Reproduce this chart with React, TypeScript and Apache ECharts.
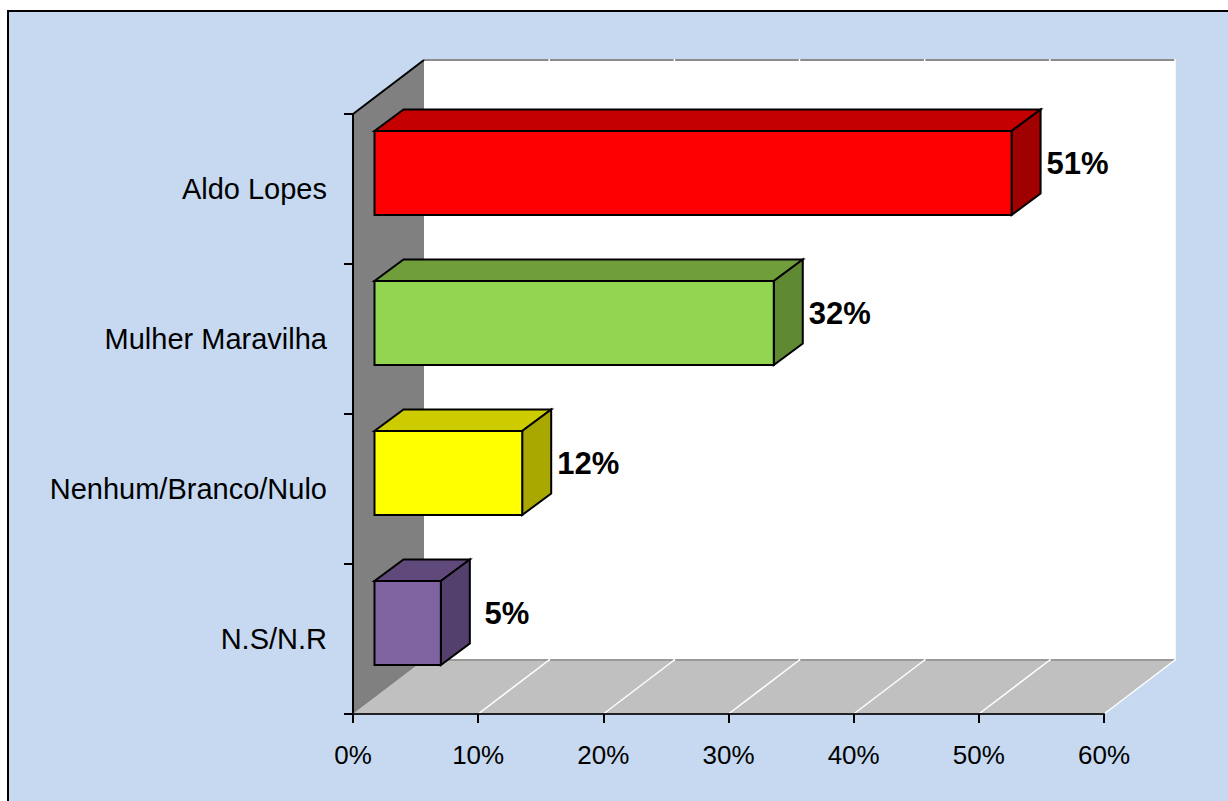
import React, { useEffect, useRef } from "react";
import * as echarts from "echarts";

const categories = ["Aldo Lopes", "Mulher Maravilha", "Nenhum/Branco/Nulo", "N.S/N.R"];
const values = [50.9, 31.9, 11.8, 5.3];
const valueLabels = ["51%", "32%", "12%", "5%"];
const xTicks = [0, 10, 20, 30, 40, 50, 60];

const frontColors = ["#ff0000", "#92d551", "#ffff00", "#8064a2"];
const topColors = ["#c40000", "#6f9e3a", "#cccc00", "#604a7b"];
const sideColors = ["#a00000", "#5f8a33", "#a8a800", "#54406c"];

const WALL_DX = 71;
const WALL_DY = -54;
const BAR_INSET = 21.5;
const BAR_RISE = 16;
const BAR_HEIGHT = 84;
const BAR_DX = 29;
const BAR_DY = -21.5;

const poly = (points: number[][], fill: string, stroke?: string, lineWidth = 2) => ({
  type: "polygon",
  shape: { points },
  style: { fill, stroke: stroke ?? "none", lineWidth, lineJoin: "miter" },
  silent: true,
});

const line = (x1: number, y1: number, x2: number, y2: number, stroke: string, lineWidth = 1.5) => ({
  type: "line",
  shape: { x1, y1, x2, y2 },
  style: { stroke, lineWidth },
  silent: true,
});

export default function App() {
  const ref = useRef<HTMLDivElement>(null);

  useEffect(() => {
    document.body.style.margin = "0";
    const chart = echarts.init(ref.current!, undefined, { renderer: "svg" });
    chart.setOption({
      animation: false,
      backgroundColor: "#ffffff",
      textStyle: { fontFamily: "Liberation Sans" },
      graphic: [
        {
          type: "rect",
          z: -10,
          silent: true,
          shape: { x: 8, y: 11, width: 1240, height: 810 },
          style: { fill: "#c6d9f1", stroke: "#000000", lineWidth: 2 },
        },
      ],
      grid: { left: 353, right: 124, top: 114, bottom: 87 },
      xAxis: {
        type: "value",
        min: 0,
        max: 60,
        interval: 10,
        z: 3,
        splitLine: { show: false },
        axisLine: { show: true, lineStyle: { color: "#222222", width: 2 } },
        axisTick: { show: true, length: 9, lineStyle: { color: "#000000", width: 2 } },
        axisLabel: { formatter: "{value}%", color: "#000000", fontSize: 26, margin: 28, fontFamily: "Liberation Sans" },
      },
      yAxis: {
        type: "category",
        inverse: true,
        data: categories,
        z: 3,
        axisLine: { show: true, onZero: false, lineStyle: { color: "#000000", width: 2 } },
        axisTick: { show: true, length: 9, lineStyle: { color: "#000000", width: 2 } },
        axisLabel: { color: "#000000", fontSize: 29, margin: 26, fontFamily: "Liberation Sans" },
      },
      series: [
        {
          type: "custom",
          z: 1,
          silent: true,
          coordinateSystem: "cartesian2d",
          data: [0],
          renderItem: (params: any, api: any) => {
            const c = params.coordSys;
            const left = c.x;
            const right = c.x + c.width;
            const top = c.y;
            const bottom = c.y + c.height;
            const children: any[] = [
              poly(
                [[left + WALL_DX, top + WALL_DY], [right + WALL_DX, top + WALL_DY], [right + WALL_DX, bottom + WALL_DY], [left + WALL_DX, bottom + WALL_DY]],
                "#ffffff"
              ),
              line(left + WALL_DX, top + WALL_DY, right + WALL_DX, top + WALL_DY, "#8c8c8c", 2),
              poly([[left, top], [left + WALL_DX, top + WALL_DY], [left + WALL_DX, bottom + WALL_DY], [left, bottom]], "#808080"),
              poly([[left, bottom], [right, bottom], [right + WALL_DX, bottom + WALL_DY], [left + WALL_DX, bottom + WALL_DY]], "#c0c0c0"),
              line(left + WALL_DX, bottom + WALL_DY, right + WALL_DX, bottom + WALL_DY, "#9a9a9a", 2),
              line(left, top, left + WALL_DX, top + WALL_DY, "#000000", 2),
            ];
            xTicks.slice(1).forEach((t) => {
              const x = api.coord([t, categories[0]])[0];
              children.push(line(x, bottom, x + WALL_DX, bottom + WALL_DY, "#ffffff", 1.5));
              children.push(line(x + WALL_DX, top + WALL_DY - 1, x + WALL_DX, bottom + WALL_DY + 1, "#ffffff", 1.5));
            });
            return { type: "group", children };
          },
        },
        {
          type: "custom",
          z: 4,
          silent: true,
          coordinateSystem: "cartesian2d",
          encode: { x: 0, y: 1 },
          data: values.map((v, i) => [v, categories[i]]),
          renderItem: (params: any, api: any) => {
            const i = params.dataIndex;
            const end = api.coord([api.value(0), categories[i]]);
            const origin = api.coord([0, categories[i]]);
            const x0 = origin[0] + BAR_INSET;
            const x1 = end[0] + BAR_INSET;
            const y1 = end[1] - BAR_RISE + BAR_HEIGHT / 2;
            const y0 = y1 - BAR_HEIGHT;
            return {
              type: "group",
              children: [
                poly([[x0, y0], [x1, y0], [x1 + BAR_DX, y0 + BAR_DY], [x0 + BAR_DX, y0 + BAR_DY]], topColors[i], "#000000"),
                poly([[x1, y0], [x1 + BAR_DX, y0 + BAR_DY], [x1 + BAR_DX, y1 + BAR_DY], [x1, y1]], sideColors[i], "#000000"),
                poly([[x0, y0], [x1, y0], [x1, y1], [x0, y1]], frontColors[i], "#000000"),
                {
                  type: "text",
                  silent: true,
                  style: {
                    text: valueLabels[i],
                    x: x1 + 66,
                    y: end[1] - 26,
                    fill: "#000000",
                    font: "bold 31px 'Liberation Sans'",
                    align: "center",
                    verticalAlign: "middle",
                  },
                },
              ],
            };
          },
        },
      ],
    });
    return () => chart.dispose();
  }, []);

  return <div ref={ref} style={{ position: "absolute", left: 0, top: 0, width: 1228, height: 801 }} />;
}
